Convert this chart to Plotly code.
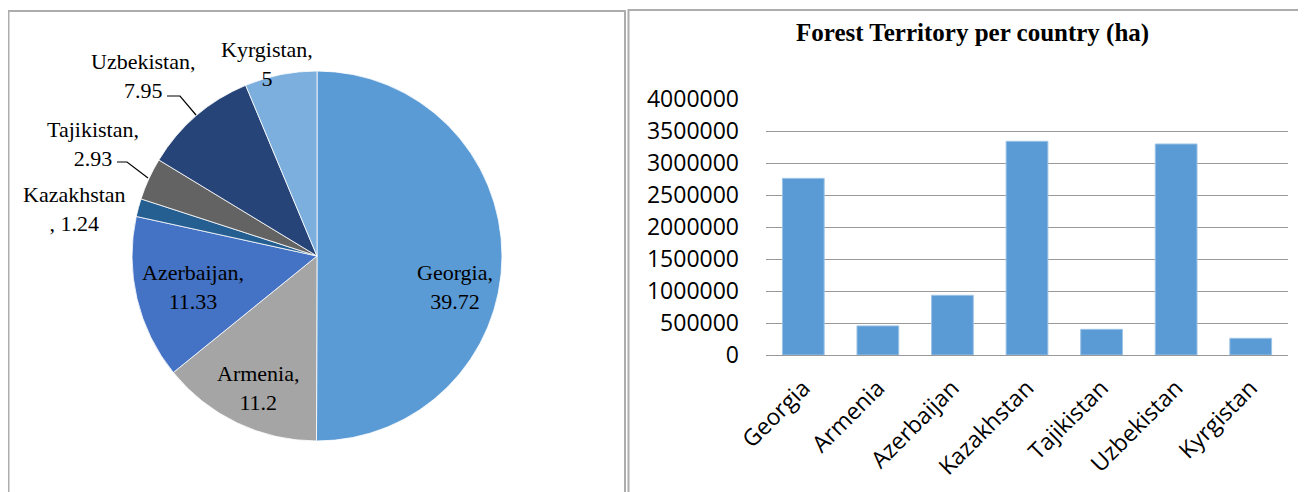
import plotly.graph_objects as go

# ---------------- data ----------------
countries = ["Georgia", "Armenia", "Azerbaijan", "Kazakhstan", "Tajikistan", "Uzbekistan", "Kyrgistan"]
pie_share = [39.72, 11.2, 11.33, 1.24, 2.93, 7.95, 5]
forest_ha = [2760000, 455000, 933000, 3339000, 401000, 3297000, 261000]
y_tick_vals = [0, 500000, 1000000, 1500000, 2000000, 2500000, 3000000, 3500000, 4000000]
bar_title = "Forest Territory per country (ha)"

pie_colors = ["#5B9BD5", "#A5A5A5", "#4472C4", "#255E91", "#636363", "#264478", "#7CAFDD"]

# ---------------- helpers (window pixel -> paper) ----------------
OFF = 8              # page body margin
W, H = 1298, 484     # figure size so that it fits the 1306x492 window


def fx(x):
    return (x - OFF) / W


def fy(y):
    return 1 - (y - OFF) / H


# label centres for the pie (layout positions, window pixels)
pie_label_pos = {
    "Georgia": (455, 287),
    "Armenia": (258, 388),
    "Azerbaijan": (193, 287),
    "Kazakhstan": (74, 209),
    "Tajikistan": (93, 144),
    "Uzbekistan": (143, 76),
    "Kyrgistan": (267, 64),
}

fig = go.Figure()

fig.add_trace(go.Pie(
    labels=countries,
    values=pie_share,
    sort=False,
    direction="clockwise",
    rotation=0,
    marker=dict(colors=pie_colors, line=dict(color="white", width=0.8)),
    textinfo="none",
    hoverinfo="label+value",
    showlegend=False,
    domain=dict(x=[fx(132), fx(502)], y=[fy(441), fy(71)]),
))

fig.add_trace(go.Bar(
    x=countries,
    y=forest_ha,
    marker=dict(color="#5B9BD5", line=dict(color="#9DC3E6", width=1)),
    width=0.56,
    showlegend=False,
    xaxis="x",
    yaxis="y",
))

annotations = []
for c, v in zip(countries, pie_share):
    if c == "Kazakhstan":
        txt = f"{c}<br>, {v:g}"
    else:
        txt = f"{c},<br>{v:g}"
    px_, py_ = pie_label_pos[c]
    annotations.append(dict(
        x=fx(px_), y=fy(py_), xref="paper", yref="paper",
        text=txt, showarrow=False, align="center",
        xanchor="center", yanchor="middle",
        font=dict(family="Liberation Serif", size=22, color="black"),
    ))

annotations.append(dict(
    x=fx(972), y=fy(33), xref="paper", yref="paper",
    text=f"<b>{bar_title}</b>", showarrow=False,
    xanchor="center", yanchor="middle",
    font=dict(family="Liberation Serif", size=25, color="black"),
))

border = dict(color="#ADADAD", width=2)
shapes = [
    dict(type="rect", xref="paper", yref="paper",
         x0=fx(8.5), x1=fx(625), y0=fy(11), y1=fy(520), line=border, layer="above"),
    dict(type="rect", xref="paper", yref="paper",
         x0=fx(628.5), x1=fx(1340), y0=fy(10), y1=fy(520), line=border, layer="above"),
]


def leader(points):
    d = "M " + " L ".join(f"{fx(a)},{fy(b)}" for a, b in points)
    return dict(type="path", xref="paper", yref="paper", path=d,
                line=dict(color="black", width=1.2))


shapes.append(leader([(167, 96), (180, 96), (196, 115)]))
shapes.append(leader([(117, 162), (127, 162), (148, 178)]))

fig.update_layout(
    width=W, height=H,
    autosize=False,
    margin=dict(l=0, r=0, t=0, b=0, pad=0, autoexpand=False),
    paper_bgcolor="white",
    plot_bgcolor="white",
    showlegend=False,
    xaxis=dict(
        domain=[fx(766), fx(1288)],
        type="category",
        automargin=False,
        showgrid=False, showline=False, ticks="",
        tickangle=-45,
        ticklabelstandoff=14,
        tickfont=dict(family="Open Sans", size=23, color="black"),
        fixedrange=True,
    ),
    yaxis=dict(
        domain=[fy(355), fy(99)],
        range=[0, 4000000],
        automargin=False,
        tickvals=y_tick_vals,
        ticktext=[str(v) for v in y_tick_vals],
        showgrid=True, gridcolor="#999999", gridwidth=1.3,
        zeroline=True, zerolinecolor="#999999", zerolinewidth=1.3,
        showline=False, ticks="",
        ticklabelstandoff=26,
        tickfont=dict(family="Open Sans", size=23, color="black"),
        fixedrange=True,
    ),
    annotations=annotations,
    shapes=shapes,
)

fig.write_html("out.html")
